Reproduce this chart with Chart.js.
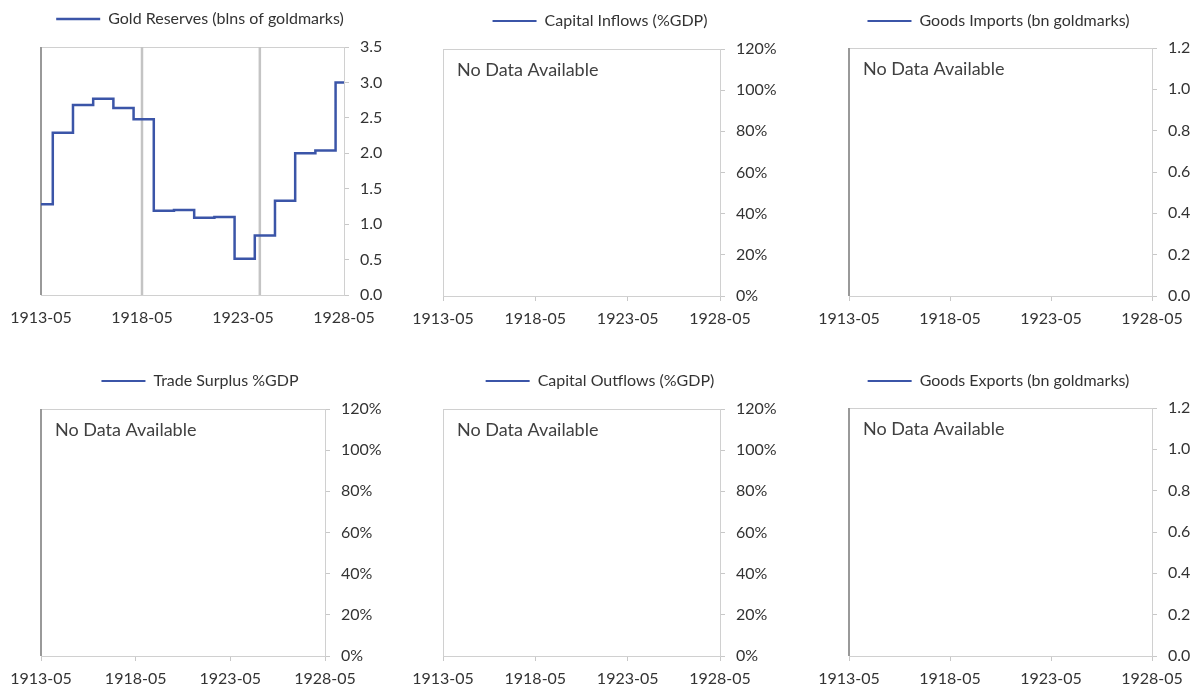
<!DOCTYPE html>
<html>
<head>
<meta charset="utf-8">
<script src="https://cdn.jsdelivr.net/npm/chart.js@4.4.1/dist/chart.umd.min.js"></script>
<style>
  body { margin: 0; background: #fff; }
  #wrap { position: relative; width: 1197px; height: 688px; }
  #wrap canvas { position: absolute; }
</style>
</head>
<body>
<div id="wrap">
  <canvas id="goldChart" width="400" height="340" style="left:0;top:0"></canvas>
  <canvas id="inflowChart" width="400" height="340" style="left:400px;top:0"></canvas>
  <canvas id="importChart" width="397" height="340" style="left:800px;top:0"></canvas>
  <canvas id="surplusChart" width="400" height="328" style="left:0;top:360px"></canvas>
  <canvas id="outflowChart" width="400" height="328" style="left:400px;top:360px"></canvas>
  <canvas id="exportChart" width="397" height="328" style="left:800px;top:360px"></canvas>
</div>
<script>
// x axis ticks (year-month)
var tickLabels = ['1913-05', '1918-05', '1923-05', '1928-05'];

// gold reserves, bn goldmarks, value holds from each date on
var goldDates = ['1913-05', '1913-12', '1914-12', '1915-12', '1916-12', '1917-12', '1918-12', '1919-12',
                 '1920-12', '1921-12', '1922-12', '1923-12', '1924-12', '1925-12', '1926-12', '1927-12', '1928-05'];
var goldValues = [1.28, 2.29, 2.68, 2.77, 2.64, 2.48, 1.19, 1.20, 1.09, 1.10, 0.51, 0.84, 1.33, 2.00, 2.04, 3.00, 3.00];

// vertical marker lines on the gold chart
var markerDates = ['1918-05', '1924-03'];

var blue = '#3b55a8';
var font = 'Lato';

function ym(s) {
     var p = s.split('-');
     return Number(p[0]) + (Number(p[1]) - 1) / 12;
}
var tickValues = tickLabels.map(ym);

var framePlugin = {
     id: 'frame',
     beforeDatasetsDraw: function(chart, args, opts) {
          var a = chart.chartArea, ctx = chart.ctx;
          ctx.save();
          ctx.strokeStyle = '#d0d0d0';
          ctx.lineWidth = 1;
          ctx.strokeRect(a.left + 0.5, a.top + 0.5, a.right - a.left, a.bottom - a.top);
          (opts.markers || []).forEach(function(d) {
               var x = chart.scales.x.getPixelForValue(ym(d));
               ctx.strokeStyle = '#c4c4c4';
               ctx.lineWidth = 2.5;
               ctx.beginPath();
               ctx.moveTo(x, a.top);
               ctx.lineTo(x, a.bottom);
               ctx.stroke();
          });
          if (opts.darkLeft) {
               ctx.strokeStyle = '#999999';
               ctx.lineWidth = 2;
               ctx.beginPath();
               ctx.moveTo(a.left, a.top);
               ctx.lineTo(a.left, a.bottom);
               ctx.stroke();
          }
          if (opts.noData) {
               ctx.fillStyle = '#404040';
               ctx.font = '18px ' + font;
               ctx.textAlign = 'left';
               ctx.textBaseline = 'alphabetic';
               ctx.fillText('No Data Available', a.left + 14, a.top + 27);
          }
          ctx.restore();
     }
};

function makeChart(id, cfg) {
     var data = cfg.dates ? cfg.dates.map(function(d, i) { return {x: ym(d), y: cfg.values[i]}; }) : [];
     return new Chart(document.getElementById(id), {
          type: 'line',
          data: {
               datasets: [{
                    label: cfg.label,
                    data: data,
                    borderColor: blue,
                    backgroundColor: blue,
                    borderWidth: cfg.dates ? 2.5 : 2,
                    pointRadius: 0,
                    stepped: true,
                    fill: false
               }]
          },
          plugins: [framePlugin],
          options: {
               responsive: false,
               animation: false,
               layout: { padding: 0 },
               plugins: {
                    frame: { markers: cfg.markers, darkLeft: cfg.darkLeft, noData: !cfg.dates },
                    tooltip: { enabled: false },
                    legend: {
                         display: true,
                         position: 'top',
                         labels: {
                              usePointStyle: true,
                              pointStyle: 'line',
                              pointStyleWidth: 44,
                              padding: cfg.legendPad,
                              color: '#333333',
                              font: { family: font, size: 16 }
                         }
                    },
                    // empty title used as a gap between legend and plot
                    title: {
                         display: true,
                         text: '',
                         weight: 500,
                         padding: 0,
                         font: { size: cfg.gap, lineHeight: 1 }
                    }
               },
               scales: {
                    x: {
                         type: 'linear',
                         min: tickValues[0],
                         max: tickValues[tickValues.length - 1],
                         afterBuildTicks: function(s) {
                              s.ticks = tickValues.map(function(v) { return {value: v}; });
                         },
                         afterFit: function(s) {
                              s.height = cfg.xHeight;
                              s.paddingLeft = cfg.left;
                         },
                         grid: { drawOnChartArea: false, drawTicks: cfg.xTicks, tickLength: 5, color: '#c8c8c8' },
                         border: { display: false },
                         ticks: {
                              autoSkip: false,
                              maxRotation: 0,
                              padding: cfg.xPad,
                              color: '#333333',
                              font: { family: font, size: 16 },
                              callback: function(v) {
                                   var i = tickValues.findIndex(function(t) { return Math.abs(t - v) < 1e-6; });
                                   return i < 0 ? '' : tickLabels[i];
                              }
                         }
                    },
                    y: {
                         position: 'right',
                         min: 0,
                         max: cfg.yMax,
                         afterFit: function(s) {
                              s.width = cfg.yWidth;
                         },
                         grid: { drawOnChartArea: false, tickLength: 5, color: '#c8c8c8' },
                         border: { display: false },
                         ticks: {
                              stepSize: cfg.yStep,
                              padding: 11,
                              color: '#333333',
                              font: { family: font, size: 16 },
                              callback: cfg.yFormat
                         }
                    }
               }
          }
     });
}

function dec1(v) { return v.toFixed(1); }
function pct(v) { return Math.round(v) + '%'; }

makeChart('goldChart', {
     label: 'Gold Reserves (blns of goldmarks)', dates: goldDates, values: goldValues, markers: markerDates,
     darkLeft: true, legendPad: 11, gap: 10, left: 41, yWidth: 56, xHeight: 45, xTicks: false, xPad: 13,
     yMax: 3.5, yStep: 0.5, yFormat: dec1
});
makeChart('inflowChart', {
     label: 'Capital Inflows (%GDP)', darkLeft: false, legendPad: 13, gap: 10, left: 43, yWidth: 80, xHeight: 44,
     xTicks: true, xPad: 8, yMax: 120, yStep: 20, yFormat: pct
});
makeChart('importChart', {
     label: 'Goods Imports (bn goldmarks)', darkLeft: true, legendPad: 13, gap: 9, left: 49, yWidth: 45, xHeight: 44,
     xTicks: true, xPad: 8, yMax: 1.2, yStep: 0.2, yFormat: dec1
});
makeChart('surplusChart', {
     label: 'Trade Surplus %GDP', darkLeft: true, legendPad: 13, gap: 10, left: 41, yWidth: 75, xHeight: 32,
     xTicks: true, xPad: 8, yMax: 120, yStep: 20, yFormat: pct
});
makeChart('outflowChart', {
     label: 'Capital Outflows (%GDP)', darkLeft: false, legendPad: 13, gap: 10, left: 43, yWidth: 80, xHeight: 32,
     xTicks: true, xPad: 8, yMax: 120, yStep: 20, yFormat: pct
});
makeChart('exportChart', {
     label: 'Goods Exports (bn goldmarks)', darkLeft: true, legendPad: 13, gap: 9, left: 49, yWidth: 45, xHeight: 32,
     xTicks: true, xPad: 8, yMax: 1.2, yStep: 0.2, yFormat: dec1
});
</script>
</body>
</html>
